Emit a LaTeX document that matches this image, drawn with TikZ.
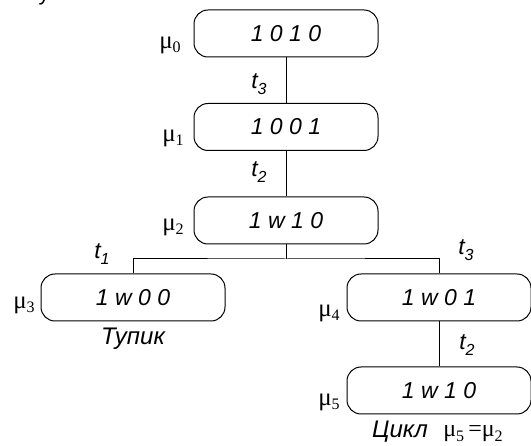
\documentclass[tikz,border=0pt]{standalone}
\usepackage{fontspec}
\setmainfont{Liberation Serif}
\setsansfont{Liberation Sans}
% marking name mu_i and transition t_i
\newcommand{\mrk}[1]{\fontsize{25}{25}\selectfont μ\raisebox{-0.4ex}{\fontsize{16}{16}\selectfont #1}}
\newcommand{\trn}[1]{\sffamily\itshape\fontsize{23}{23}\selectfont t\raisebox{-0.5ex}{\fontsize{16}{16}\selectfont #1}}
\begin{document}
\begin{tikzpicture}[x=1pt,y=-1pt,line width=1pt,
  marking/.style={draw,rounded corners=14pt,minimum width=184pt,minimum height=47pt,inner sep=0pt,
    font=\sffamily\itshape\fontsize{23}{23}\selectfont}]
\useasboundingbox (0,0) rectangle (531,446);
\node[anchor=base] (cut) at (44,1) {\sffamily\fontsize{22}{22}\selectfont у};
\node[marking] (m0) at (286,33.5) {1 0 1 0};
\node[marking] (m1) at (286,127) {1 0 0 1};
\node[marking] (m2) at (286,220.5) {1 w 1 0};
\node[marking] (m3) at (133,297.5) {1 w 0 0};
\node[marking] (m4) at (439,297.5) {1 w 0 1};
\node[marking] (m5) at (439,390.5) {1 w 1 0};
\coordinate (fork) at (286,259);
\draw (m0)--(m1);
\draw (m1)--(m2);
\draw (m2)--(fork);
\draw (m3) |- (fork) -| (m4);
\draw (m4)--(m5);
\foreach \i/\x/\y in {0/170/45,1/173/138,2/173/227,3/24/305,4/329/313,5/329/402}
  {\node (mu\i) at (\x,\y) {\mrk{\i}};}
\foreach \n/\i/\x/\y in {a/3/259/84,b/2/259/172,c/1/102/254,d/3/466/250,e/2/467/345}
  {\node (t\n) at (\x,\y) {\trn{\i}};}
\node (dead) at (133,339) {\sffamily\itshape\fontsize{24}{24}\selectfont Тупик};
\node (loop) at (400,432) {\sffamily\itshape\fontsize{24}{24}\selectfont Цикл};
\node (eq) at (473,434) {\fontsize{24}{24}\selectfont μ\raisebox{-0.4ex}{\fontsize{16}{16}\selectfont 5}$\,$=μ\raisebox{-0.4ex}{\fontsize{16}{16}\selectfont 2}};
\end{tikzpicture}
\end{document}
